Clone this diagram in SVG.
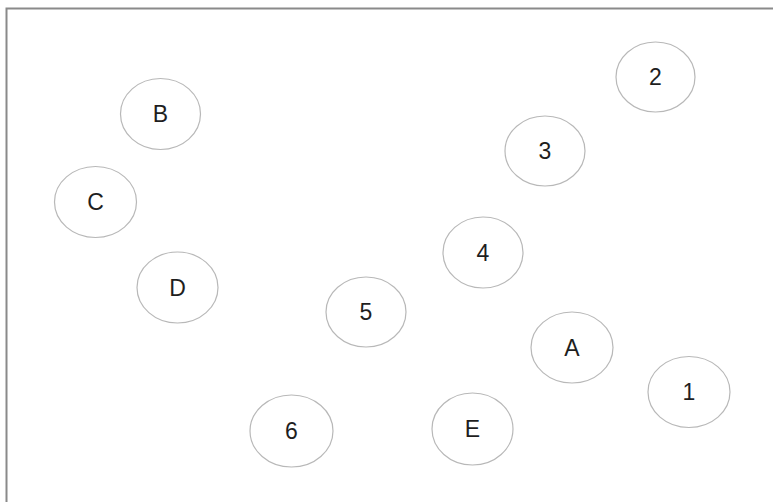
<svg xmlns="http://www.w3.org/2000/svg" width="773" height="502" viewBox="0 0 773 502">
<style>
.n ellipse{fill:#ffffff;stroke:#b8b8b8;stroke-width:1.2}
.n text{font-family:"Liberation Sans",Arial,sans-serif;font-size:23px;fill:#1e1e1e;text-anchor:middle}
</style>
<rect x="0" y="0" width="773" height="502" fill="#ffffff"/>
<path d="M6.5 502 V8.5 H773" fill="none" stroke="#8a8a8a" stroke-width="2"/>
<g id="edges"></g>
<g id="nB" class="n"><ellipse cx="160.5" cy="114" rx="40" ry="35.5"/><text x="160.5" y="122.2">B</text></g>
<g id="nC" class="n"><ellipse cx="95.5" cy="202" rx="41" ry="35.5"/><text x="95.5" y="210.2">C</text></g>
<g id="nD" class="n"><ellipse cx="177.5" cy="287.5" rx="40.5" ry="35.5"/><text x="177.5" y="295.7">D</text></g>
<g id="n2" class="n"><ellipse cx="655.5" cy="77" rx="39.5" ry="35"/><text x="655.5" y="85.2">2</text></g>
<g id="n3" class="n"><ellipse cx="545" cy="151" rx="40" ry="35"/><text x="545" y="159.2">3</text></g>
<g id="n4" class="n"><ellipse cx="483" cy="252.5" rx="40" ry="35.5"/><text x="483" y="260.7">4</text></g>
<g id="n5" class="n"><ellipse cx="366" cy="312" rx="40" ry="35"/><text x="366" y="320.2">5</text></g>
<g id="nA" class="n"><ellipse cx="572" cy="347.5" rx="41" ry="35.5"/><text x="572" y="355.7">A</text></g>
<g id="n1" class="n"><ellipse cx="689" cy="392" rx="41" ry="35.5"/><text x="689" y="400.2">1</text></g>
<g id="n6" class="n"><ellipse cx="291.5" cy="431" rx="41.5" ry="36"/><text x="291.5" y="439.2">6</text></g>
<g id="nE" class="n"><ellipse cx="472.5" cy="429" rx="40.5" ry="36"/><text x="472.5" y="437.2">E</text></g>
</svg>
